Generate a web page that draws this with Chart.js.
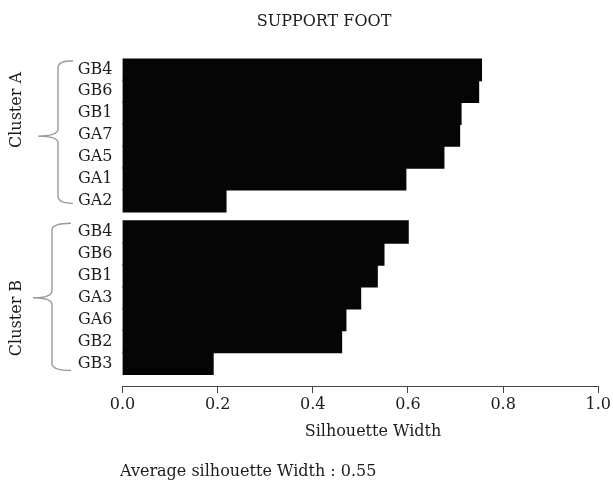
<!DOCTYPE html>
<html>
<head>
<meta charset="utf-8">
<title>Support foot silhouette plot</title>
<script src="https://cdn.jsdelivr.net/npm/chart.js@4.4.1/dist/chart.umd.min.js"></script>
<style>
  html, body { margin: 0; padding: 0; background: #ffffff; }
  #wrap { width: 613px; height: 484px; position: relative; }
</style>
</head>
<body>
<div id="wrap"><canvas id="chart" width="613" height="484"></canvas></div>
<script>
// Silhouette widths per member, ordered within each cluster
const clusterNames = ['Cluster A', 'Cluster B'];
const clusterALabels = ['GB4', 'GB6', 'GB1', 'GA7', 'GA5', 'GA1', 'GA2'];
const clusterAValues = [0.754, 0.748, 0.711, 0.708, 0.675, 0.595, 0.217];
const clusterBLabels = ['GB4', 'GB6', 'GB1', 'GA3', 'GA6', 'GB2', 'GB3'];
const clusterBValues = [0.600, 0.549, 0.535, 0.500, 0.469, 0.460, 0.190];
const xTicks = [0, 0.2, 0.4, 0.6, 0.8, 1.0];
const chartTitle = 'SUPPORT FOOT';
const xTitle = 'Silhouette Width';
const averageLabel = 'Average silhouette Width : 0.55';

// Row positions: one unit per member, with a small gap between clusters
const CLUSTER_GAP = 0.43;
const rowLabels = clusterALabels.concat(clusterBLabels);
const rowPositions = clusterALabels.map((_, i) => i)
  .concat(clusterBLabels.map((_, i) => clusterALabels.length + CLUSTER_GAP + i));
const rowValues = clusterAValues.concat(clusterBValues);
const barData = rowValues.map((v, i) => ({ x: v, y: rowPositions[i] }));

const FONT = 'DejaVu Serif';
const INK = '#1c1c1c';

// Curly brace opening to the right
function drawBrace(ctx, xEnd, xV, xPoint, top, mid, bottom) {
  const r = 7;
  ctx.beginPath();
  ctx.moveTo(xEnd, top);
  ctx.quadraticCurveTo(xV, top, xV, top + r);
  ctx.lineTo(xV, mid - r);
  ctx.quadraticCurveTo(xV, mid, xPoint, mid);
  ctx.quadraticCurveTo(xV, mid, xV, mid + r);
  ctx.lineTo(xV, bottom - r);
  ctx.quadraticCurveTo(xV, bottom, xEnd, bottom);
  ctx.stroke();
}

const annotations = {
  id: 'annotations',
  afterDraw(chart) {
    const ctx = chart.ctx;
    const y = chart.scales.y;
    ctx.save();
    ctx.fillStyle = INK;
    ctx.font = '16px "' + FONT + '"';
    ctx.textBaseline = 'middle';

    // title and axis caption
    ctx.textAlign = 'center';
    ctx.fillText(chartTitle, 324, 22);
    ctx.fillText(xTitle, 373, 432);

    // summary line
    ctx.textAlign = 'left';
    ctx.fillText(averageLabel, 120, 472);

    // cluster braces and names
    ctx.strokeStyle = '#9a9a9a';
    ctx.lineWidth = 1.4;
    const nA = clusterALabels.length;
    const aTop = y.getPixelForValue(rowPositions[0] - 0.4);
    const aBot = y.getPixelForValue(rowPositions[nA - 1] + 0.12);
    const aMid = y.getPixelForValue(rowPositions[3]);
    drawBrace(ctx, 73, 58, 38, aTop, aMid + 1, aBot);
    const bTop = y.getPixelForValue(rowPositions[nA] - 0.4);
    const bBot = y.getPixelForValue(rowPositions[rowPositions.length - 1] + 0.33);
    const bMid = y.getPixelForValue(rowPositions[nA + 3]);
    drawBrace(ctx, 71, 52, 33, bTop, bMid, bBot);

    ctx.textAlign = 'center';
    ctx.translate(17, 110);
    ctx.rotate(-Math.PI / 2);
    ctx.fillText(clusterNames[0], 0, 0);
    ctx.rotate(Math.PI / 2);
    ctx.translate(0, 208);
    ctx.rotate(-Math.PI / 2);
    ctx.fillText(clusterNames[1], 0, 0);
    ctx.restore();
  }
};

new Chart(document.getElementById('chart'), {
  type: 'bar',
  data: {
    datasets: [{
      data: barData,
      backgroundColor: '#050505',
      borderWidth: 0,
      inflateAmount: 0.8,
      categoryPercentage: 1,
      barPercentage: 1
    }]
  },
  options: {
    indexAxis: 'y',
    responsive: false,
    animation: false,
    devicePixelRatio: 1,
    layout: { padding: { top: 58.5, right: 14.7, left: 0, bottom: 0 } },
    plugins: { legend: { display: false }, title: { display: false }, tooltip: { enabled: false } },
    scales: {
      x: {
        type: 'linear',
        min: 0,
        max: 1,
        afterBuildTicks: s => { s.ticks = xTicks.map(v => ({ value: v })); },
        ticks: {
          callback: v => Number(v).toFixed(1),
          font: { family: FONT, size: 16 },
          color: INK,
          padding: 2,
          maxRotation: 0
        },
        grid: { drawOnChartArea: false, drawTicks: true, tickLength: 7, color: '#444444', lineWidth: 1 },
        border: { display: true, color: '#444444', width: 1 },
        afterFit: s => { s.height = 98; }
      },
      y: {
        type: 'linear',
        reverse: true,
        offset: false,
        min: -0.5,
        max: 14.465,
        afterBuildTicks: s => { s.ticks = rowPositions.map(p => ({ value: p })); },
        ticks: {
          autoSkip: false,
          callback: (v, i) => rowLabels[i],
          font: { family: FONT, size: 16 },
          color: INK,
          padding: 10
        },
        grid: { display: false, drawTicks: false },
        border: { display: false },
        afterFit: s => { s.width = 122.5; }
      }
    }
  },
  plugins: [annotations]
});
</script>
</body>
</html>
